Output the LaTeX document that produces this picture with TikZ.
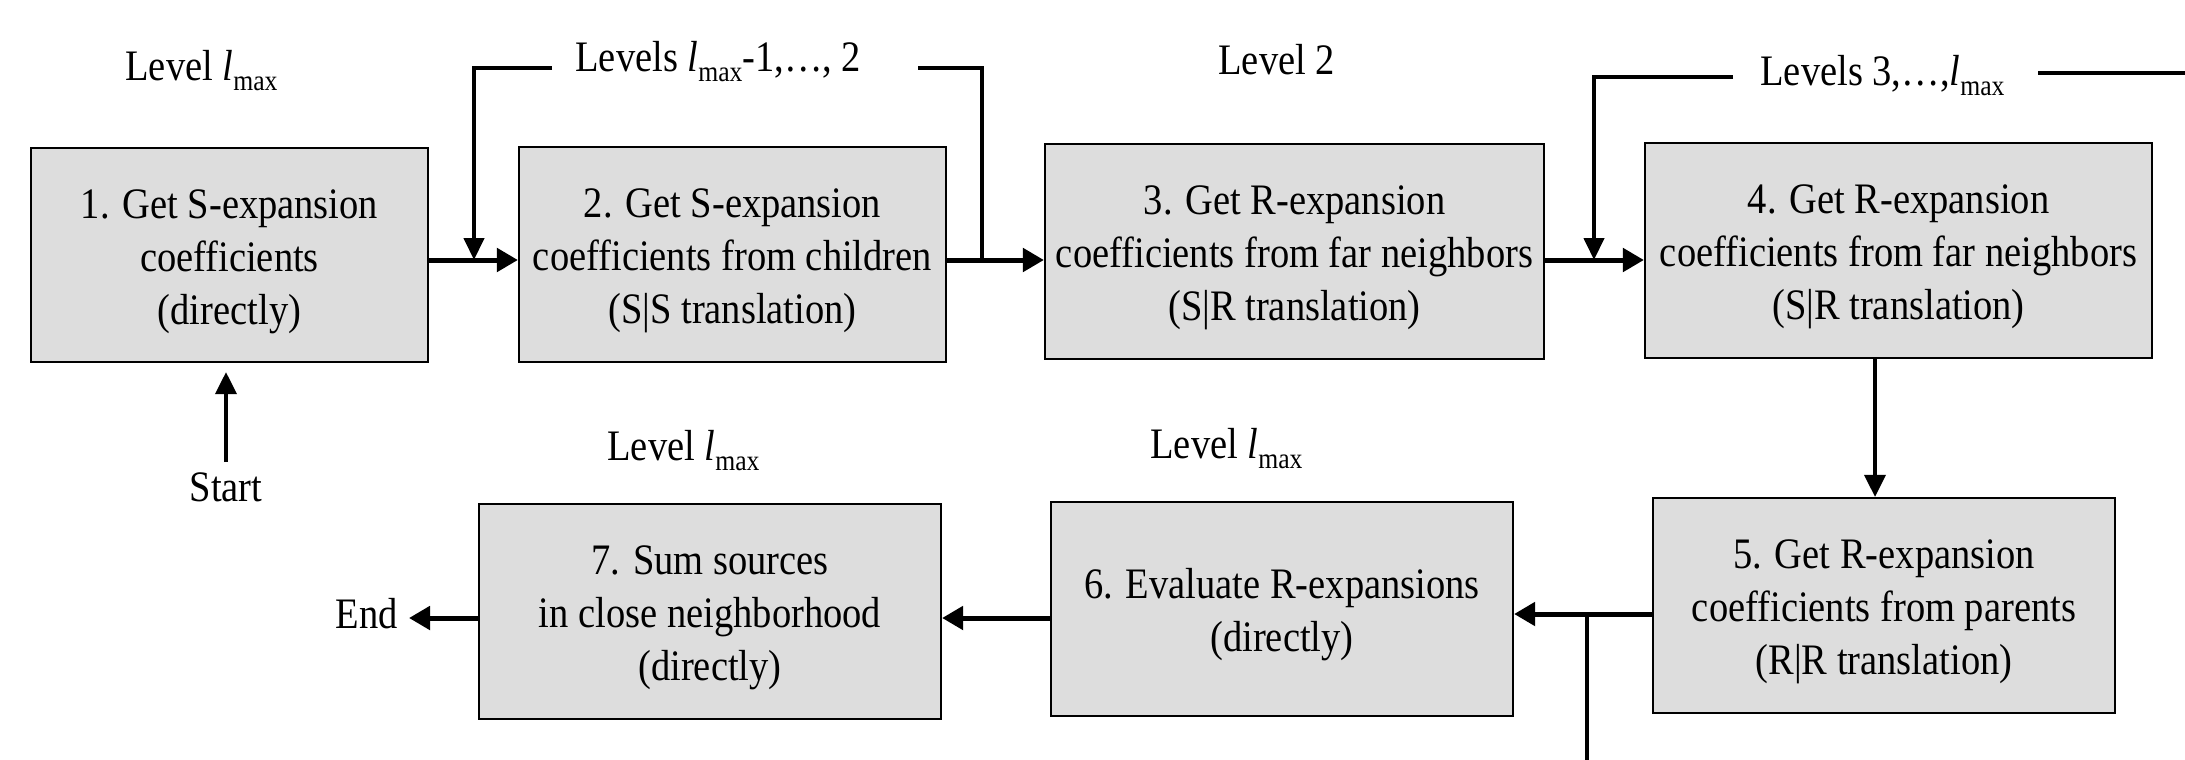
\documentclass[tikz,border=0pt]{standalone}
\usepackage{fontspec}
\setmainfont{Liberation Serif}[FakeStretch=0.885]
\usetikzlibrary{arrows.meta}
\definecolor{boxgray}{RGB}{221,221,221}
% italic l with a lowered roman "max"
\newcommand\lmx{\textit{l}\raisebox{-5pt}{\fontsize{14.5pt}{14.5pt}\selectfont max}}
% extra room above the first line of a stage text
\newcommand\toppad{\rule{0pt}{21pt}}

\begin{document}
\begin{tikzpicture}[x=0.5pt,y=-0.5pt,
  every node/.style={font=\fontsize{21.75pt}{26.5pt}\selectfont},
  stage/.style={draw=black, line width=1.1pt, fill=boxgray, align=center, inner sep=0pt},
  lbl/.style={inner sep=0pt},
  flow/.style={line width=2.5pt, -{Triangle[length=10.5pt,width=11.5pt]}},
  thinflow/.style={line width=1.8pt, -{Triangle[length=11pt,width=10.5pt]}},
  loopline/.style={line width=2.1pt}
]
\useasboundingbox (0,0) rectangle (2185,760);

% processing stages
\node[stage, minimum width=198.5pt, minimum height=107pt] (b1) at (229.5,255)
  {\toppad 1. Get S-expansion\\coefficients\\(directly)};
\node[stage, minimum width=213.5pt, minimum height=107.5pt] (b2) at (732.5,254.5)
  {\toppad 2. Get S-expansion\\coefficients from children\\(S|S translation)};
\node[stage, minimum width=249.5pt, minimum height=107.5pt] (b3) at (1294.5,251.5)
  {\toppad 3. Get R-expansion\\coefficients from far neighbors\\(S|R translation)};
\node[stage, minimum width=253.5pt, minimum height=107.5pt] (b4) at (1898.5,250.5)
  {\toppad 4. Get R-expansion\\coefficients from far neighbors\\(S|R translation)};
\node[stage, minimum width=231pt, minimum height=107.5pt] (b5) at (1884,605.5)
  {\toppad 5. Get R-expansion\\coefficients from parents\\(R|R translation)};
\node[stage, minimum width=231pt, minimum height=107pt] (b6) at (1282,609)
  {\toppad 6. Evaluate R-expansions\\(directly)};
\node[stage, minimum width=231pt, minimum height=107.5pt] (b7) at (710,611.5)
  {\toppad 7. Sum sources\\in close neighborhood\\(directly)};

% level labels
\node[lbl, anchor=base west] (lv1) at (125,80) {Level \lmx};
\node[lbl, anchor=base west] (lv2) at (575,71) {Levels \lmx-1,…, 2};
\node[lbl, anchor=base west] (lv3) at (1218,74) {Level 2};
\node[lbl, anchor=base west] (lv4) at (1760,85) {Levels 3,…,\lmx};
\node[lbl, anchor=base west] (lv5) at (607,460) {Level \lmx};
\node[lbl, anchor=base west] (lv6) at (1150,458) {Level \lmx};
\node[lbl, anchor=base] (start) at (226,501) {Start};
\node[lbl, anchor=base east] (end) at (398,628) {End};

% reference rows and junctions
\coordinate (rowa) at (0,260);
\coordinate (rowb) at (0,614);
\coordinate (rowc) at (0,618);
\coordinate (ka) at (982,260);
\coordinate (kat) at (918,68);
\coordinate (kbt) at (552,68);
\coordinate (kb) at (474,260);
\coordinate (kc) at (1594,260);
\coordinate (kct) at (1733,77);
\coordinate (kd) at (2038,73);
\coordinate (kde) at (2185,73);
\coordinate (ke) at (1587,614);
\coordinate (kee) at (1587,760);
\coordinate (st) at (226,462);
\coordinate (endtip) at (409,618);
\coordinate (down) at (1875,0);

% loop over levels lmax-1,...,2
\draw[loopline] (ka) |- (kat);
\draw[loopline, -{Triangle[length=11pt,width=10pt]}] (kbt) -| (kb);
% loop over levels 3,...,lmax
\draw[loopline, -{Triangle[length=11pt,width=10pt]}] (kct) -| (kc);
\draw[loopline] (kd) -- (kde);
\draw[loopline] (ke) -- (kee);

% main flow
\draw[thinflow, shorten >=4.5pt] (st) -- (b1.south -| st);
\draw[flow] (b1.east |- rowa) -- (b2.west |- rowa);
\draw[flow] (b2.east |- rowa) -- (b3.west |- rowa);
\draw[flow] (b3.east |- rowa) -- (b4.west |- rowa);
\draw[thinflow] (b4.south -| down) -- (b5.north -| down);
\draw[flow] (b5.west |- rowb) -- (b6.east |- rowb);
\draw[flow] (b6.west |- rowc) -- (b7.east |- rowc);
\draw[flow] (b7.west |- rowc) -- (endtip);
\end{tikzpicture}
\end{document}
